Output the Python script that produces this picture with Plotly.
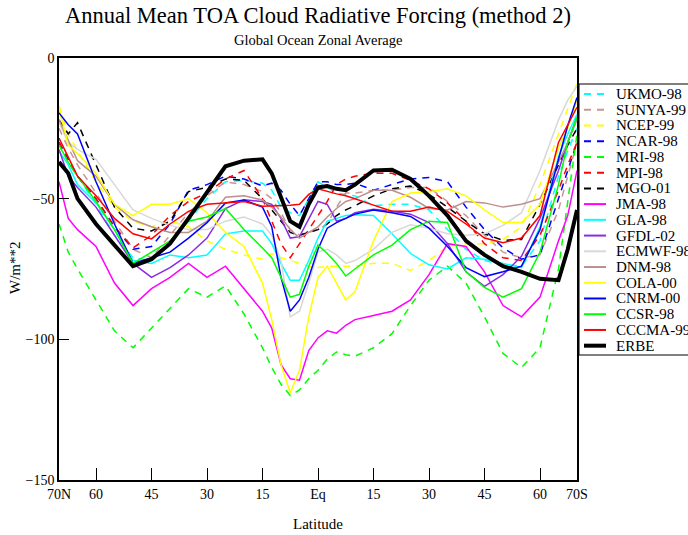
import plotly.graph_objects as go

# latitude grid (positive = North)
lat = [70, 67.5, 65, 60, 55, 50, 45, 40, 35, 30, 25, 20, 15, 12.5, 10, 7.5, 5, 2.5, 0,
       -2.5, -5, -7.5, -10, -15, -20, -25, -30, -35, -40, -45, -50, -55, -60, -65, -67.5, -70]

ukmo = [-30, -36, -42, -52, -63, -71, -72, -66, -58, -50, -44, -43.5, -44.5, -47, -53, -55, -56, -50, -44,
        -46, -48, -48.5, -49, -52.5, -52, -52, -54, -61, -68, -72, -73.5, -74, -65, -42, -33, -25]
sunya = [-25, -32, -38, -48, -58, -68, -71, -63, -55, -49, -44, -45, -47.5, -50, -55, -61, -63, -62, -61,
         -59, -53, -48, -48, -47, -47, -46, -46, -51, -56, -63, -69, -71, -70, -54, -42, -30]
ncep = [-17, -27, -33, -44, -53, -58, -60, -58, -60, -65, -68, -70, -71.5, -69.5, -71, -72, -73, -74, -74.5,
        -74, -74, -74, -74, -73, -73, -75.5, -72, -67, -66, -66, -64.5, -60, -45, -27, -18, -9]
ncar = [-30, -36, -42, -50, -60, -68, -67, -59, -47, -45, -42, -43, -45.5, -44.5, -47, -52, -56, -50, -44,
        -44, -45, -45, -44.5, -47, -45, -43, -42.5, -44, -53, -61, -67.5, -71.5, -70, -50, -40, -30]
mri = [-59, -69, -75, -86, -97, -103, -96, -89, -82, -85, -81, -91, -103, -110, -116, -120, -118, -114, -111,
       -107, -104.5, -105.5, -106, -103, -98, -88, -79, -74, -80, -92, -105, -110, -103, -75, -50, -27]
mpi = [-30, -37, -42, -50, -60, -67.5, -63, -56, -51, -48, -43, -40, -50, -58, -66, -71, -66, -61, -56,
       -51, -45, -43, -42, -41, -41, -43.5, -46.5, -51.5, -58, -66, -71, -72, -63, -47, -38, -30]
mgo = [-22, -27, -23, -38, -53, -60.5, -61.5, -58, -47.5, -46, -43, -43.5, -50, -54, -58, -62, -63, -62, -61,
       -59, -56, -54, -52.5, -49, -46.5, -45.5, -48.5, -53, -58, -62.5, -64.8, -64.5, -52, -38, -31, -25]
jma = [-44, -57, -61, -67, -80, -88, -82, -78, -73, -78, -74, -82, -90, -96, -109, -114, -114.5, -104, -99.5,
       -97, -97.8, -95, -93, -91.5, -90, -86, -77, -66, -67, -76, -88, -92, -85, -65, -56, -40]
gla = [-33, -38, -45, -51.5, -61, -72, -73, -70, -71, -70, -62.5, -61.5, -61.5, -66, -73, -79, -79, -72, -64,
       -58, -57, -56, -55.7, -56, -62.5, -69.5, -73.5, -75, -71, -71.5, -73, -74.5, -60, -35, -27, -20]
gfdl = [-32.5, -42, -46, -53, -63, -73, -78, -74.5, -70, -64, -53.5, -50.4, -51, -52, -57, -64, -63.5, -57, -51,
        -52, -58, -57, -55, -53.8, -54.5, -55.5, -58.5, -66, -76, -81.2, -77, -70.5, -57, -40, -30, -21]
ecmwf = [-23, -30, -32.5, -36, -45, -54, -57, -59.5, -61, -61, -58, -56.5, -59, -63, -72, -92, -90, -80, -69,
         -68, -70, -73, -72, -68, -62, -59.3, -60.5, -62.5, -63, -62.5, -59.5, -55, -40, -22, -15, -10]
dnm = [-22, -29, -36.5, -42, -52, -57.5, -60, -62, -62, -58, -49.5, -49, -50.5, -53, -56.5, -61, -64, -62, -60,
       -56.5, -53.5, -51, -50, -47, -47, -49.5, -53.5, -54, -51, -51.5, -53, -52, -50, -37, -30, -22]
cola = [-18, -31, -34, -41, -52, -56, -52, -52, -50, -55, -62, -67, -80, -93, -109, -119, -111, -92, -78,
        -74, -80, -86, -83, -65, -51, -48, -47.5, -46.5, -49, -54, -58.5, -58.5, -52, -32, -25, -15]
cnrm = [-19.5, -23.7, -27, -44, -59, -73, -71, -69, -64, -58.5, -51.5, -50.5, -53, -60, -78, -90, -86, -78, -68,
        -60.5, -58.5, -57, -55.5, -54, -55, -56.3, -60.5, -67, -74.5, -77.7, -76, -74, -61, -36, -24, -14]
ccsr = [-31, -37, -42, -51, -61, -73, -69, -65, -58, -56.5, -53.5, -61, -67.5, -71, -78, -85, -84, -74, -66.5,
        -69.5, -73, -77.5, -75, -70, -66.5, -61, -58, -58.5, -76, -81.5, -85, -82, -69, -45, -30, -21]
cccma = [-28.5, -35, -42, -49, -57, -62.5, -64.3, -59, -54.5, -52, -51.5, -51, -52.7, -52.6, -52.5, -52.3, -52, -48.5, -46.5,
         -47.5, -48.3, -49, -50, -52.3, -54.5, -54.5, -53, -54.5, -59, -64, -65.7, -64, -56, -30, -23.5, -17.5]
erbe = [-37, -41, -50, -59, -66.5, -74, -71.5, -66, -57, -47.5, -38.5, -36.5, -36, -41, -50, -58, -60, -52, -46,
        -45.5, -46.5, -47, -45, -40, -39.7, -43, -49, -56, -65, -70, -74, -76, -78.5, -79, -68, -54]

names = ["UKMO-98", "SUNYA-99", "NCEP-99", "NCAR-98", "MRI-98", "MPI-98", "MGO-01", "JMA-98",
         "GLA-98", "GFDL-02", "ECMWF-98", "DNM-98", "COLA-00", "CNRM-00", "CCSR-98", "CCCMA-99", "ERBE"]
values = [ukmo, sunya, ncep, ncar, mri, mpi, mgo, jma, gla, gfdl, ecmwf, dnm, cola, cnrm, ccsr, cccma, erbe]
colors = ["#00FFFF", "#C89696", "#FFFF00", "#0000FF", "#00FF00", "#FF0000", "#000000", "#FF00FF",
          "#00FFFF", "#8A2BE2", "#D8D8D8", "#BC8F8F", "#FFFF00", "#0000FF", "#00FF00", "#FF0000", "#000000"]
dashed = [True, True, True, True, True, True, True, False,
          False, False, False, False, False, False, False, False, False]
widths = [1.5] * 16 + [4]

xticks = [70, 60, 45, 30, 15, 0, -15, -30, -45, -60, -70]
xticktext = ["70N", "60", "45", "30", "15", "Eq", "15", "30", "45", "60", "70S"]
yticks = [0, -50, -100, -150]

SERIF = "Liberation Serif, Times New Roman, serif"
DASH = "7px,6px"

fig = go.Figure()
for name, vals, col, dsh, w in zip(names, values, colors, dashed, widths):
    fig.add_trace(go.Scatter(x=lat, y=vals, mode="lines", name=name, showlegend=False,
                             line=dict(color=col, width=w, dash=DASH if dsh else "solid")))

# manual legend (layout only)
L, R, T, B = 59, 577, 58, 480
pw, ph = R - L, B - T
def px(xp): return (xp - L) / pw
def py(yp): return (B - yp) / ph

fig.add_shape(type="rect", xref="paper", yref="paper", x0=px(579), x1=px(720), y0=py(355), y1=py(84),
              line=dict(color="black", width=1), fillcolor="white", layer="above")
for i, (name, col, dsh, w) in enumerate(zip(names, colors, dashed, widths)):
    yy = 94 + 15.73 * i
    fig.add_shape(type="line", xref="paper", yref="paper", x0=px(584), x1=px(606), y0=py(yy), y1=py(yy),
                  line=dict(color=col, width=w if w > 2 else 2, dash=DASH if dsh else "solid"), layer="above")
    fig.add_annotation(text=name, xref="paper", yref="paper", x=px(614), y=py(yy), xanchor="left",
                       yanchor="middle", showarrow=False, font=dict(family=SERIF, size=15, color="black"))

fig.update_layout(
    width=688, height=535,
    margin=dict(l=L, r=688 - R, t=T, b=535 - B, autoexpand=False),
    paper_bgcolor="white", plot_bgcolor="white",
    title=dict(text="Annual Mean TOA Cloud Radiative Forcing (method 2)", x=0.5, xref="paper",
               y=1 - 15 / 535, yanchor="middle", font=dict(family=SERIF, size=22.5, color="black")),
    font=dict(family=SERIF, size=14, color="black"),
    showlegend=False,
)
fig.add_annotation(text="Global Ocean Zonal Average", xref="paper", yref="paper", x=0.5, y=py(40),
                   xanchor="center", yanchor="middle", showarrow=False,
                   font=dict(family=SERIF, size=14.5, color="black"))
fig.add_annotation(text="Latitude", xref="paper", yref="paper", x=0.5, y=py(524),
                   xanchor="center", yanchor="middle", showarrow=False,
                   font=dict(family=SERIF, size=15, color="black"))
fig.add_annotation(text="W/m**2", xref="paper", yref="paper", x=px(15), y=py(268), textangle=-90,
                   xanchor="center", yanchor="middle", showarrow=False,
                   font=dict(family=SERIF, size=15, color="black"))
fig.update_xaxes(range=[70, -70], tickmode="array", tickvals=xticks, ticktext=xticktext,
                 ticks="inside", ticklen=12, tickwidth=1, tickcolor="black", automargin=False,
                 showline=True, linecolor="black", linewidth=1.5, mirror=True, showgrid=False, zeroline=False,
                 tickfont=dict(family=SERIF, size=14))
fig.update_yaxes(range=[-150, 0], tickmode="array", tickvals=yticks, automargin=False,
                 ticks="inside", ticklen=10, tickwidth=1, tickcolor="black",
                 showline=True, linecolor="black", linewidth=1.5, mirror=True, showgrid=False, zeroline=False,
                 tickfont=dict(family=SERIF, size=14))

fig.write_html("out.html")
